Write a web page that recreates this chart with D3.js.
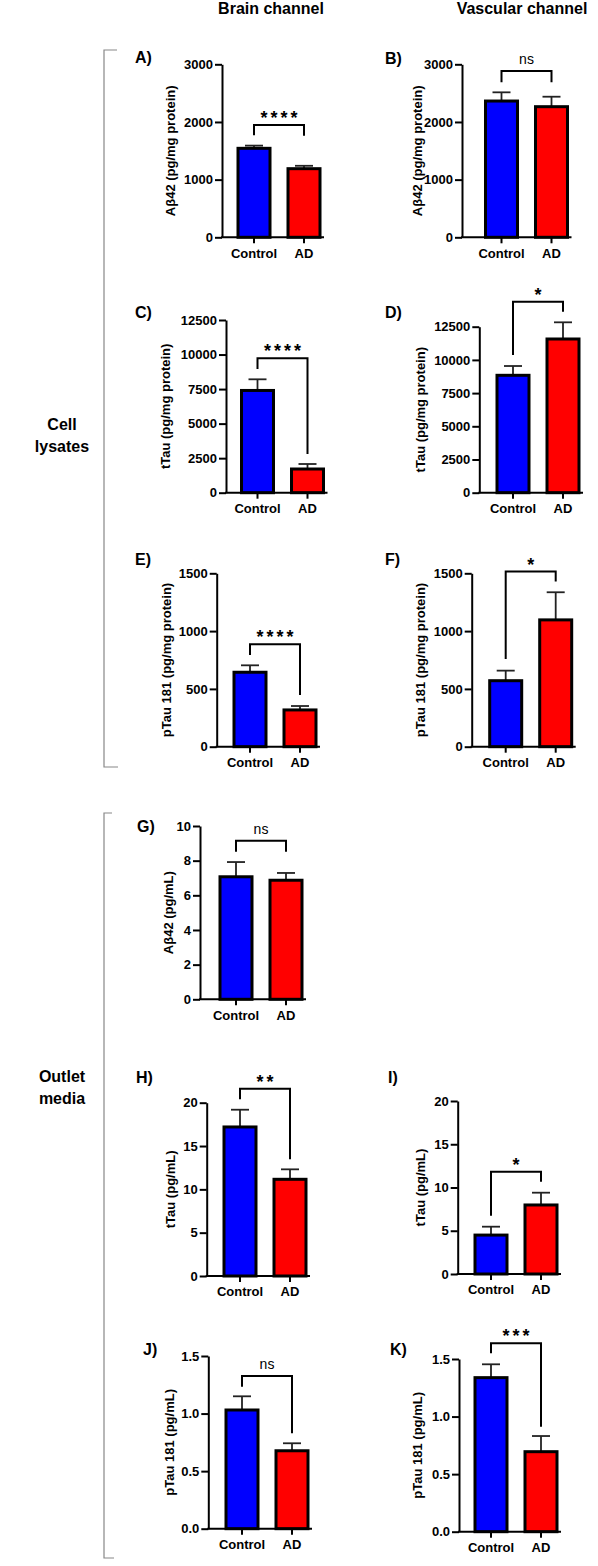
<!DOCTYPE html>
<html><head><meta charset="utf-8">
<script src="https://cdn.jsdelivr.net/npm/d3@7"></script>
<style>
html,body{margin:0;padding:0;background:#fff;}
svg text{font-family:"Liberation Sans",Arial,sans-serif;}
</style></head>
<body>
<svg id="chart" width="598" height="1566"></svg>
<script>
// ---------- DATA ----------
const categories = ["Control", "AD"];
const panelIds = ["A","B","C","D","E","F","G","H","I","J","K"];
const yLabels = [
  "Aβ42 (pg/mg protein)","Aβ42 (pg/mg protein)",
  "tTau (pg/mg protein)","tTau (pg/mg protein)",
  "pTau 181 (pg/mg protein)","pTau 181 (pg/mg protein)",
  "Aβ42 (pg/mL)",
  "tTau (pg/mL)","tTau (pg/mL)",
  "pTau 181 (pg/mL)","pTau 181 (pg/mL)"
];
const yMax     = [3000,3000,12500,12500,1500,1500,10,20,20,1.5,1.5];
const yStep    = [1000,1000,2500,2500,500,500,2,5,5,0.5,0.5];
const tickFmt  = ["d","d","d","d","d","d","d","d","d",".1f",".1f"];
const controlMean = [1543,2363,7400,8840,644,571,7.07,17.2,4.5,1.031,1.338];
const controlUpper = [1590,2514,8207,9540,704,658,7.92,19.19,5.47,1.15,1.454];
const adMean = [1190,2265,1715,11574,318,1097,6.87,11.16,7.98,0.677,0.695];
const adUpper = [1240,2438,2077,12830,352,1336,7.29,12.31,9.40,0.742,0.831];
const sigLabels = ["****","ns","****","*","****","*","ns","**","*","ns","***"];
const bracketTop = [1947,2883,9727,14383,886,1515,9.15,21.6,11.83,1.326,1.636];
const bracketLeftEnd = [1770,2688,8953,10370,794,759,8.52,20.4,6.74,1.233,1.549];
const bracketRightEnd = [1760,2688,2800,13630,447,1428,8.52,13.47,10.67,0.829,0.912];
const columnHeaders = ["Brain channel","Vascular channel"];
const groupLabels = [["Cell","lysates"],["Outlet","media"]];

// ---------- LAYOUT ----------
const layout = {
  A:{ax:222,top:64.3,bot:237.3,off:32,lx:135,ly:63,yl:172},
  B:{ax:462,top:64.3,bot:237.3,off:39.5,lx:385,ly:64,yl:419},
  C:{ax:226,top:320,bot:492.7,off:31.5,lx:135,ly:318,yl:167},
  D:{ax:479.3,top:326.7,bot:492.7,off:33.7,lx:385,ly:318,yl:422},
  E:{ax:216.7,top:573.3,bot:746.7,off:33.3,lx:135,ly:565,yl:168},
  F:{ax:471.7,top:573.3,bot:746.7,off:34,lx:385,ly:565,yl:422},
  G:{ax:200,top:826,bot:999.3,off:36,lx:137,ly:832,yl:170},
  H:{ax:206.7,top:1102.7,bot:1276,off:33.3,lx:136,ly:1083,yl:172},
  I:{ax:457.7,top:1101,bot:1274,off:33.3,lx:388,ly:1083,yl:422},
  J:{ax:208.3,top:1356,bot:1528.7,off:33.7,lx:143,ly:1355,yl:171},
  K:{ax:459,top:1359,bot:1531.7,off:32,lx:390,ly:1355,yl:419}
};
const colors = {Control:"#0000ff", AD:"#ff0000"};

const svg = d3.select("#chart");

// headers
svg.append("text").attr("x",271).attr("y",14).attr("text-anchor","middle")
  .attr("font-size",16).attr("font-weight","bold").text(columnHeaders[0]);
svg.append("text").attr("x",522).attr("y",14).attr("text-anchor","middle")
  .attr("font-size",16).attr("font-weight","bold").text(columnHeaders[1]);

// group labels
const gl = [{cx:62,y:430,lines:groupLabels[0]},{cx:62,y:1082,lines:groupLabels[1]}];
gl.forEach(g=>{
  g.lines.forEach((t,i)=>{
    svg.append("text").attr("x",g.cx).attr("y",g.y+i*22).attr("text-anchor","middle")
      .attr("font-size",16).attr("font-weight","bold").text(t);
  });
});

// brackets (gray)
function sideBracket(x,y1,y2,w1,w2){
  svg.append("path").attr("d",`M${x+w1},${y1}H${x}V${y2}H${x+w2}`)
    .attr("fill","none").attr("stroke","#888").attr("stroke-width",1.2);
}
sideBracket(104,50,767,13,14);
sideBracket(104,813,1558,8,10);

panelIds.forEach((id,i)=>{
  const L = layout[id];
  const g = svg.append("g");
  const y = d3.scaleLinear().domain([0,yMax[i]]).range([L.bot,L.top]);
  const c0 = L.ax + L.off;
  const x = d3.scaleBand().domain(categories)
    .range([c0-25, c0+75]).paddingInner(0.36).paddingOuter(0.18);
  const bw = x.bandwidth();
  const cx = k => x(k)+bw/2;

  // error bars (upper only)
  const means = [controlMean[i], adMean[i]];
  const uppers = [controlUpper[i], adUpper[i]];
  categories.forEach((k,j)=>{
    g.append("line").attr("x1",cx(k)).attr("x2",cx(k))
      .attr("y1",y(means[j])).attr("y2",y(uppers[j]))
      .attr("stroke","#222").attr("stroke-width",1.8);
    g.append("line").attr("x1",cx(k)-9).attr("x2",cx(k)+9)
      .attr("y1",y(uppers[j])).attr("y2",y(uppers[j]))
      .attr("stroke","#222").attr("stroke-width",1.8);
  });
  // bars
  g.selectAll("rect.bar").data(categories).join("rect")
    .attr("x",k=>x(k)).attr("width",bw)
    .attr("y",(k,j)=>y(means[j])).attr("height",(k,j)=>L.bot-y(means[j]))
    .attr("fill",k=>colors[k]).attr("stroke","#000").attr("stroke-width",3);

  // y axis
  const ticks = d3.range(0, yMax[i]+yStep[i]/2, yStep[i]);
  const yAxis = d3.axisLeft(y).tickValues(ticks).tickSize(7).tickSizeOuter(0)
    .tickFormat(d3.format(tickFmt[i]));
  const ya = g.append("g").attr("transform",`translate(${L.ax},0)`).call(yAxis);
  ya.select(".domain").attr("stroke","#000").attr("stroke-width",2);
  ya.selectAll(".tick line").attr("stroke","#000").attr("stroke-width",2);
  ya.selectAll(".tick text").attr("font-size",13).attr("font-weight","bold")
    .attr("fill","#000").attr("x",-9).attr("font-family","Liberation Sans, Arial, sans-serif");

  // x axis
  const xAxis = d3.axisBottom(x).tickSize(6).tickSizeOuter(0);
  const xa = g.append("g").attr("transform",`translate(0,${L.bot})`).call(xAxis);
  xa.select(".domain").remove();
  g.append("line").attr("x1",L.ax-1).attr("x2",x("AD")+bw+4)
    .attr("y1",L.bot).attr("y2",L.bot).attr("stroke","#000").attr("stroke-width",2);
  xa.selectAll(".tick line").attr("stroke","#000").attr("stroke-width",2);
  xa.selectAll(".tick text").attr("font-size",13).attr("font-weight","bold")
    .attr("fill","#000").attr("y",11).attr("font-family","Liberation Sans, Arial, sans-serif");

  // y label
  g.append("text").attr("transform",`translate(${L.yl},${(L.top+L.bot)/2}) rotate(-90)`)
    .attr("text-anchor","middle").attr("dominant-baseline","middle")
    .attr("font-size",13).attr("font-weight","bold").text(yLabels[i]);

  // panel letter
  g.append("text").attr("x",L.lx).attr("y",L.ly).attr("font-size",16)
    .attr("font-weight","bold").text(id+")");

  // significance bracket
  const bx1 = cx("Control"), bx2 = cx("AD");
  g.append("path")
    .attr("d",`M${bx1},${y(bracketLeftEnd[i])}V${y(bracketTop[i])}H${bx2}V${y(bracketRightEnd[i])}`)
    .attr("fill","none").attr("stroke","#000").attr("stroke-width",2);
  const isNs = sigLabels[i]==="ns";
  g.append("text").attr("x",(bx1+bx2)/2 + (isNs?0:1.5))
    .attr("y",y(bracketTop[i]) - (isNs?7:1))
    .attr("text-anchor","middle")
    .attr("font-size",isNs?14:18)
    .attr("font-weight",isNs?"normal":"bold")
    .attr("letter-spacing",isNs?0:3)
    .text(sigLabels[i]);
});
</script>
</body></html>
